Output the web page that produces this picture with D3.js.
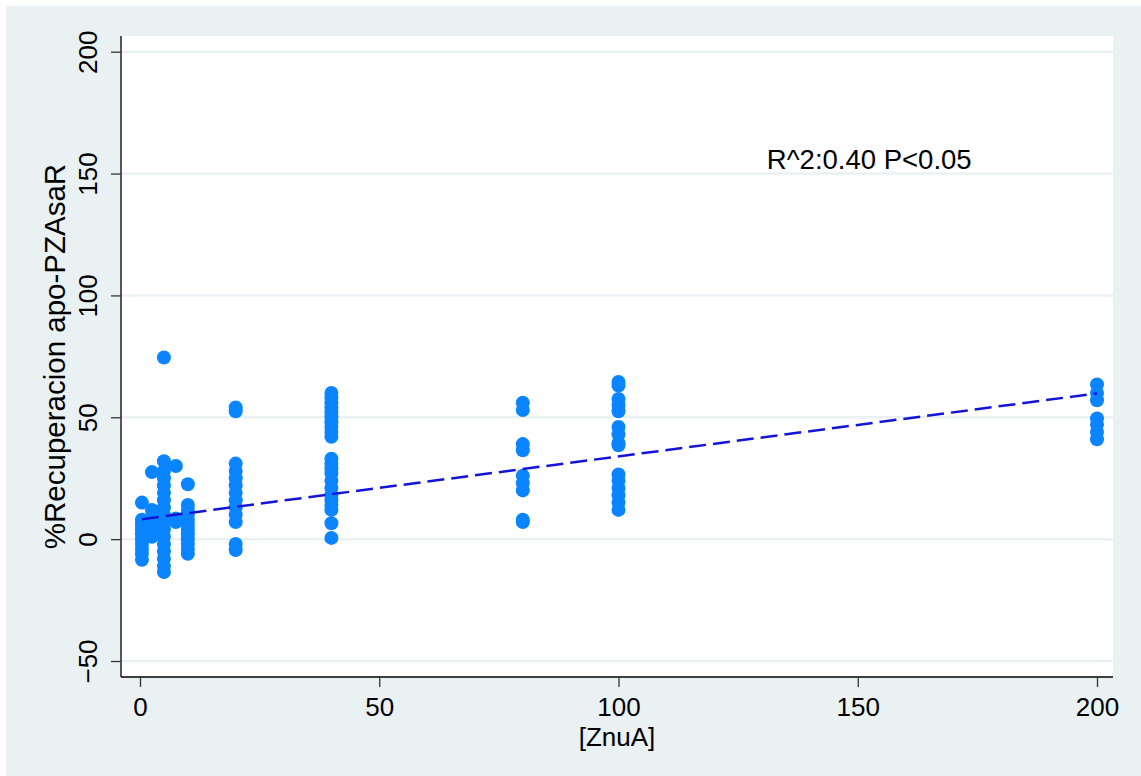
<!DOCTYPE html>
<html>
<head>
<meta charset="utf-8">
<script src="https://cdn.jsdelivr.net/npm/d3@7"></script>
<style>
  body { margin: 0; background: #fff; }
  text { font-family: "Liberation Sans", Arial, sans-serif; fill: #000; }
</style>
</head>
<body>
<div id="chart"></div>
<script>
// concentrations of ZnuA and recovery values
const conc = [0.4, 2.5, 5, 7.5, 10, 20, 40, 80, 100, 200];
const recov = [
	[15, 8, 6, 4, 2, 0, -2, -4, -6, -8.5],
	[27.5, 12, 9, 6, 3, 1],
	[74.5, 32, 28, 25, 22, 19, 16, 13, 10, 7, 4, 1, -2, -5, -8, -11, -13.5],
	[30, 8.5, 7],
	[22.5, 14, 12, 10, 8, 6, 4, 2, 0, -2, -4, -6],
	[54, 52.5, 31, 28, 25, 22, 19, 16, 13, 10, 7, -2, -4.5],
	[60, 58, 56, 54, 52, 50, 48, 46, 44, 42, 33, 31, 29, 27, 24, 21, 18, 16, 14, 12, 6.5, 0.5],
	[56, 53, 39, 36.5, 26, 23, 20, 8, 7],
	[64.5, 63, 57.5, 55, 52.5, 46, 43, 39.5, 38.5, 26.5, 24, 21, 18, 15, 12],
	[63.5, 60, 57, 49.5, 47, 44, 41]
];
// linear fit endpoints
const fitX = [0.4, 200];
const fitY = [8.2, 59.8];

const xTicks = [0, 50, 100, 150, 200];
const yTicks = [-50, 0, 50, 100, 150, 200];
const note = "R^2:0.40 P<0.05";

const W = 1141, H = 776;
const plot = { left: 121, right: 1113, top: 36, bottom: 677 };

const svg = d3.select("#chart")
	.append("svg")
	.attr("width", W)
	.attr("height", H);

svg.append("rect")
	.attr("x", 6).attr("y", 6)
	.attr("width", W - 6).attr("height", H - 6)
	.attr("fill", "#eaf1f3");

svg.append("rect")
	.attr("x", plot.left).attr("y", plot.top)
	.attr("width", plot.right - plot.left).attr("height", plot.bottom - plot.top)
	.attr("fill", "#fff");

const x = d3.scaleLinear().domain([0, 200]).range([140, 1097]);
const y = d3.scaleLinear().domain([-50, 200]).range([661, 51.7]);

// gridlines
svg.append("g")
	.selectAll("line")
	.data(yTicks)
	.enter()
	.append("line")
	.attr("x1", plot.left)
	.attr("x2", plot.right)
	.attr("y1", (d) => y(d))
	.attr("y2", (d) => y(d))
	.attr("stroke", "#eaf1f3")
	.attr("stroke-width", 2.5);

// points
const pts = [];
conc.forEach((c, i) => recov[i].forEach((v) => pts.push([c, v])));

svg.append("g")
	.selectAll("circle")
	.data(pts)
	.enter()
	.append("circle")
	.attr("cx", (d) => x(d[0]))
	.attr("cy", (d) => y(d[1]))
	.attr("r", 7)
	.attr("fill", "#0a85ff");

// fit line
svg.append("path")
	.datum(fitX.map((d, i) => [d, fitY[i]]))
	.attr("d", d3.line().x((d) => x(d[0])).y((d) => y(d[1])))
	.attr("fill", "none")
	.attr("stroke", "#1414d8")
	.attr("stroke-width", 2.5)
	.attr("stroke-dasharray", "17,7");

// y axis
const yAxis = svg.append("g")
	.attr("transform", `translate(${plot.left},0)`)
	.call(d3.axisLeft(y).tickValues(yTicks).tickSize(10).tickSizeOuter(0));
yAxis.select(".domain")
	.attr("d", `M0,${plot.top}V${plot.bottom}`)
	.attr("stroke", "#000")
	.attr("stroke-width", 1.3);
yAxis.selectAll(".tick line").attr("stroke", "#333").attr("stroke-width", 1.3);
yAxis.selectAll(".tick text")
	.attr("x", 0)
	.attr("dy", 0)
	.attr("text-anchor", "middle")
	.attr("transform", "translate(-24,0) rotate(-90)")
	.style("font-size", "26px")
	.style("font-family", '"Liberation Sans", Arial, sans-serif')
	.attr("fill", "#000");

// x axis
const xAxis = svg.append("g")
	.attr("transform", `translate(0,${plot.bottom})`)
	.call(d3.axisBottom(x).tickValues(xTicks).tickSize(10).tickPadding(11).tickSizeOuter(0));
xAxis.select(".domain")
	.attr("d", `M${plot.left},0H${plot.right}`)
	.attr("stroke", "#000")
	.attr("stroke-width", 1.3);
xAxis.selectAll(".tick line").attr("stroke", "#333").attr("stroke-width", 1.3);
xAxis.selectAll(".tick text")
	.style("font-size", "26px")
	.style("font-family", '"Liberation Sans", Arial, sans-serif')
	.attr("fill", "#000");

// titles
svg.append("text")
	.attr("transform", `translate(65,${(plot.top + plot.bottom) / 2}) rotate(-90)`)
	.attr("text-anchor", "middle")
	.style("font-size", "29.5px")
	.text("%Recuperacion apo-PZAsaR");

svg.append("text")
	.attr("x", (plot.left + plot.right) / 2)
	.attr("y", 746)
	.attr("text-anchor", "middle")
	.style("font-size", "26px")
	.text("[ZnuA]");

svg.append("text")
	.attr("x", x(131))
	.attr("y", y(152))
	.style("font-size", "27.5px")
	.text(note);
</script>
</body>
</html>
